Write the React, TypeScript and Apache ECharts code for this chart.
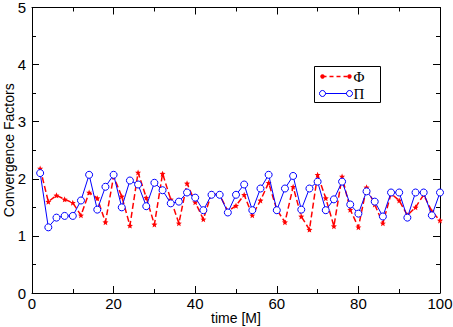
import React, { useEffect, useRef } from "react";
import * as echarts from "echarts";

const times = [2, 4, 6, 8, 10, 12, 14, 16, 18, 20, 22, 24, 26, 28, 30, 32, 34, 36, 38, 40, 42, 44, 46, 48, 50, 52, 54, 56, 58, 60, 62, 64, 66, 68, 70, 72, 74, 76, 78, 80, 82, 84, 86, 88, 90, 92, 94, 96, 98, 100];

const phi = [2.18, 1.6, 1.71, 1.64, 1.58, 1.36, 1.76, 1.66, 1.24, 2.04, 1.69, 1.18, 2.11, 1.67, 1.2, 2.09, 1.64, 1.22, 1.92, 1.59, 1.29, 1.74, 1.72, 1.43, 1.53, 1.72, 1.36, 1.62, 1.93, 1.46, 1.24, 1.86, 1.34, 1.11, 2.07, 1.66, 1.17, 2.04, 1.46, 1.15, 1.85, 1.55, 1.22, 1.74, 1.62, 1.36, 1.5, 1.72, 1.43, 1.27];

const pi = [2.1, 1.15, 1.32, 1.35, 1.35, 1.62, 2.07, 1.46, 1.86, 2.07, 1.5, 1.97, 1.9, 1.52, 1.93, 1.8, 1.57, 1.6, 1.76, 1.67, 1.45, 1.72, 1.72, 1.41, 1.72, 1.9, 1.45, 1.83, 2.07, 1.45, 1.83, 2.05, 1.46, 1.83, 1.95, 1.45, 1.64, 1.95, 1.55, 1.39, 1.78, 1.6, 1.34, 1.76, 1.76, 1.32, 1.76, 1.76, 1.36, 1.76];

const xTicks = [0, 20, 40, 60, 80, 100];
const yTicks = [0, 1, 2, 3, 4, 5];
const seriesNames = ["Φ", "Π"];

const STAR = "path://M0,-10 L2.6,-3.6 9.5,-3.1 4.2,1.4 5.9,8.1 0,4.4 -5.9,8.1 -4.2,1.4 -9.5,-3.1 -2.6,-3.6Z";

export default function App() {
  const ref = useRef<HTMLDivElement>(null);
  useEffect(() => {
    if (!ref.current) return;
    const chart = echarts.init(ref.current, null, { renderer: "svg" });
    const font = "'Liberation Sans', Arial, sans-serif";
    const axisBase = {
      type: "value" as const,
      axisLine: { show: true, onZero: false, lineStyle: { color: "#000", width: 1 } },
      axisTick: { show: true, inside: true, length: 7, lineStyle: { color: "#000" } },
      minorTick: { show: true, splitNumber: 2, length: 4, lineStyle: { color: "#000" } },
      splitLine: { show: false },
      nameMoveOverlap: false,
    };
    chart.setOption({
      animation: false,
      backgroundColor: "#fff",
      grid: { left: 32, right: 13, top: 7.5, bottom: 34, containLabel: false, outerBoundsMode: "none" },
      xAxis: [
        {
          ...axisBase,
          position: "bottom",
          min: xTicks[0],
          max: xTicks[xTicks.length - 1],
          interval: xTicks[1] - xTicks[0],
          name: "time [M]",
          nameLocation: "middle",
          nameGap: 18,
          nameTextStyle: { fontFamily: font, fontSize: 14, color: "#000" },
          axisLabel: { fontFamily: font, fontSize: 15, lineHeight: 13, color: "#000", margin: 4 },
        },
        {
          ...axisBase,
          position: "top",
          min: xTicks[0],
          max: xTicks[xTicks.length - 1],
          interval: xTicks[1] - xTicks[0],
          axisLabel: { show: false },
        },
      ],
      yAxis: [
        {
          ...axisBase,
          position: "left",
          min: yTicks[0],
          max: yTicks[yTicks.length - 1],
          interval: 1,
          name: "Convergence Factors",
          nameLocation: "middle",
          nameGap: 16,
          nameTextStyle: { fontFamily: font, fontSize: 14, color: "#000" },
          axisLabel: { fontFamily: font, fontSize: 15, lineHeight: 12, color: "#000", margin: 6 },
        },
        {
          ...axisBase,
          position: "right",
          min: yTicks[0],
          max: yTicks[yTicks.length - 1],
          interval: 1,
          axisLabel: { show: false },
        },
      ],
      series: [
        {
          name: seriesNames[0],
          type: "line",
          data: times.map((t, i) => [t, phi[i]]),
          symbol: STAR,
          symbolSize: 6,
          itemStyle: { color: "#ff0000", borderWidth: 0 },
          lineStyle: { color: "#ff0000", width: 1.5, type: [6, 3] },
          z: 2,
        },
        {
          name: seriesNames[1],
          type: "line",
          data: times.map((t, i) => [t, pi[i]]),
          symbol: "circle",
          symbolSize: 7,
          itemStyle: { color: "#fff", borderColor: "#0000ff", borderWidth: 1 },
          lineStyle: { color: "#0000ff", width: 1 },
          z: 3,
        },
      ],
      graphic: [
        {
          type: "group",
          left: 314,
          top: 66,
          children: [
            { type: "rect", shape: { x: 0, y: 0, width: 66, height: 36 }, style: { fill: "#fff", stroke: "#000", lineWidth: 1 } },
            { type: "line", shape: { x1: 8, y1: 10, x2: 35, y2: 10 }, style: { stroke: "#ff0000", lineWidth: 1.5, lineDash: [4, 3] } },
            { type: "circle", shape: { cx: 8, cy: 10, r: 2.2 }, style: { fill: "#ff0000" } },
            { type: "circle", shape: { cx: 35, cy: 10, r: 2.2 }, style: { fill: "#ff0000" } },
            { type: "text", x: 39, y: 10, style: { text: seriesNames[0], font: "15px 'Liberation Serif', serif", fill: "#000", verticalAlign: "middle" } },
            { type: "line", shape: { x1: 8, y1: 27, x2: 35, y2: 27 }, style: { stroke: "#0000ff", lineWidth: 1 } },
            { type: "circle", shape: { cx: 8, cy: 27, r: 3 }, style: { fill: "#fff", stroke: "#0000ff", lineWidth: 1 } },
            { type: "circle", shape: { cx: 35, cy: 27, r: 3 }, style: { fill: "#fff", stroke: "#0000ff", lineWidth: 1 } },
            { type: "text", x: 39, y: 27, style: { text: seriesNames[1], font: "15px 'Liberation Serif', serif", fill: "#000", verticalAlign: "middle" } },
          ],
        },
      ],
    });
    return () => chart.dispose();
  }, []);
  return <div ref={ref} style={{ width: 453, height: 327, position: "absolute", left: 0, top: 0 }} />;
}
